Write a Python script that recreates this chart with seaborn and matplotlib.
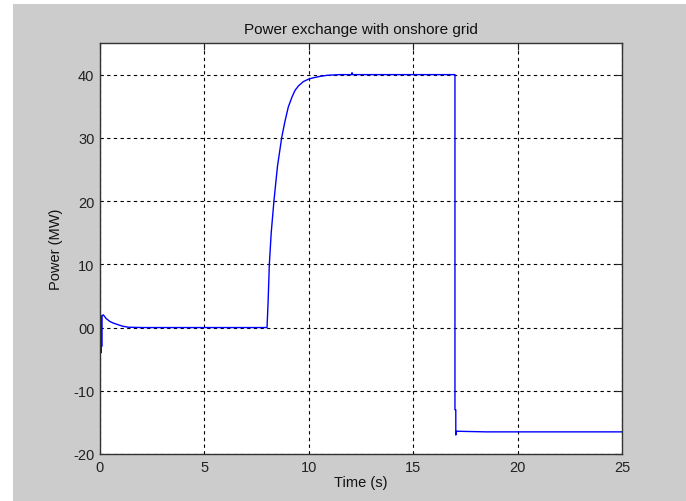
#--Import libraries--#
import pandas as pd
import seaborn as sns
import matplotlib.pyplot as plt
from matplotlib.patches import Rectangle

#--Data--#
time_s = [0.0, 0.0, 0.02, 0.04, 0.06, 0.08, 0.10, 0.16, 0.30, 0.48, 0.64, 0.88,
          1.10, 1.36, 2.0, 4.0, 6.0, 8.0, 8.05, 8.11, 8.2, 8.33, 8.5, 8.7, 8.85,
          9.02, 9.2, 9.34, 9.5, 9.74, 10.0, 10.22, 10.5, 10.9, 11.5, 12.05,
          12.07, 12.1, 14.0, 17.0, 17.0, 17.04, 17.04, 17.08, 18.5, 21.0, 25.0]
power_mw = [-20.0, -20.0, 1.5, -4.0, 1.8, -3.0, 1.9, 2.0, 1.4, 0.95, 0.7, 0.43,
            0.2, 0.05, 0.0, 0.0, 0.0, 0.0, 4.0, 10.0, 15.0, 20.0, 25.5, 30.0, 32.5,
            34.9, 36.5, 37.5, 38.2, 38.9, 39.3, 39.5, 39.7, 39.9, 40.0, 40.0,
            40.3, 40.0, 40.0, 40.0, -13.0, -13.0, -17.0, -16.4, -16.5, -16.5, -16.5]

x_ticks = [0, 5, 10, 15, 20, 25]
y_ticks = [-20, -10, 0, 10, 20, 30, 40]
y_tick_labels = ['-20', '-10', '00', '10', '20', '30', '40']

df = pd.DataFrame({'Time': time_s, 'Power': power_mw})

#--Figure with grey matlab-like panel--#
sns.set_style('white')
plt.rcParams['font.family'] = ['Liberation Sans', 'DejaVu Sans']

fig = plt.figure(figsize=(6.86, 5.02), dpi=100)
fig.patch.set_facecolor('white')
fig.add_artist(Rectangle((13 / 686, 0), 1, 497 / 502, transform=fig.transFigure,
                         facecolor='#cccccc', edgecolor='none', zorder=-10))

ax = fig.add_axes([100 / 686, 1 - 455 / 502, 522 / 686, 411 / 502])
ax.set_facecolor('white')

sns.lineplot(data=df, x='Time', y='Power', ax=ax, estimator=None, sort=False,
             color='#0000ff', linewidth=1.0)

ax.set_xlim(0, 25)
ax.set_ylim(-20, 45)
ax.set_xticks(x_ticks)
ax.set_xticklabels([str(t) for t in x_ticks])
ax.set_yticks(y_ticks)
ax.set_yticklabels(y_tick_labels)

ax.grid(True, color='black', linestyle=(0, (3, 3)), linewidth=0.8)
ax.tick_params(direction='in', length=5, width=0.8, top=True, right=True,
               labelsize=10.5, colors='#222222', pad=4)
for s in ax.spines.values():
    s.set_color('#333333')
    s.set_linewidth(1.0)

ax.set_title('Power exchange with onshore grid', fontsize=11, pad=7, color='#111111')
ax.set_xlabel('Time (s)', fontsize=10.5, labelpad=1, color='#111111')
ax.set_ylabel('Power (MW)', fontsize=10.5, labelpad=7, color='#111111')

fig.savefig('out.png', dpi=100, facecolor=fig.get_facecolor())
